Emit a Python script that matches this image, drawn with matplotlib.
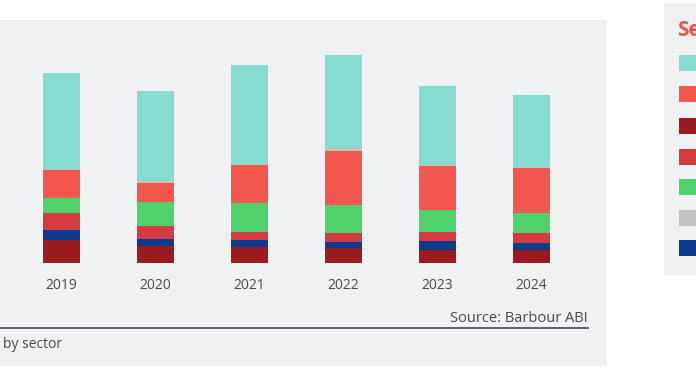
import matplotlib
matplotlib.use("Agg")
import matplotlib.pyplot as plt
from matplotlib.patches import Rectangle
from matplotlib.lines import Line2D
import numpy as np

plt.rcParams['font.family'] = ['Open Sans', 'DejaVu Sans']

years = ["2019", "2020", "2021", "2022", "2023", "2024"]
sectors = ["Residential", "Infrastructure", "Industrial", "Commercial & Retail",
           "Education", "Leisure", "Health"]
colors = ["#86dccf", "#f1574d", "#9a1b1f", "#d43c41", "#4fd26b", "#c2c2c2", "#0c3a8d"]

# values per sector (arbitrary units)
residential = [96, 90, 98.7, 92.7, 78.3, 72.3]
infrastructure = [28, 19.7, 38, 54, 44, 45]
industrial = [23, 17, 16, 15, 13.3, 13.3]
commercial = [17, 13, 7.7, 9, 8.7, 10]
education = [15, 23.7, 28.7, 27.7, 21.7, 19.7]
leisure = [1.5, 1.7, 1.7, 3.3, 1.7, 1.3]
health = [10, 7, 7.3, 6, 9, 6.7]

W, H = 696, 385
fig = plt.figure(figsize=(W / 100, H / 100), dpi=100)
fig.patch.set_facecolor("white")

def fx(px):
    return px / W

def fy(py):  # py measured from top
    return 1 - py / H

panel_bg = "#f0f1f3"
# main chart panel
fig.patches.append(Rectangle((fx(0), fy(366)), fx(607), (366 - 20) / H,
                             transform=fig.transFigure, facecolor=panel_bg,
                             edgecolor="none", zorder=-5))
# legend panel
fig.patches.append(Rectangle((fx(664), fy(275)), fx(60), (275 - 3) / H,
                             transform=fig.transFigure, facecolor=panel_bg,
                             edgecolor="none", zorder=-5))

# bar axes: baseline at y=263 px (from top), 1 unit = 1 px
ax = fig.add_axes([fx(0), fy(263), fx(607), (263 - 20) / H])
ax.set_facecolor("none")
a = -61.5 / 94
b = a + 607 / 94
ax.set_xlim(a, b)
ax.set_ylim(0, 243)

x = np.arange(len(years))
stack = [
    (industrial, colors[2]),
    (health, colors[6]),
    (commercial, colors[3]),
    (education, colors[4]),
    (infrastructure, colors[1]),
    (leisure, colors[5]),
    (residential, colors[0]),
]
bottom = np.zeros(len(years))
for vals, c in stack:
    ax.bar(x, vals, width=37 / 94, bottom=bottom, color=c, edgecolor="none")
    bottom += np.array(vals)

ax.set_xticks(x)
ax.set_xticklabels(years, fontsize=10, color="#4a4a4a")
ax.tick_params(axis="x", length=0, pad=10.5)
ax.set_yticks([])
for s in ax.spines.values():
    s.set_visible(False)

# rule and captions
fig.add_artist(Line2D([fx(0), fx(588)], [fy(328), fy(328)], transform=fig.transFigure,
                      color="#4b5563", linewidth=1.3))
fig.text(fx(588), fy(318), "Source: Barbour ABI", ha="right", va="center",
         fontsize=10.5, color="#4a4a4a")
fig.text(fx(3), fy(345), "by sector", ha="left", va="center",
         fontsize=10, color="#4a4a4a")

# legend (cropped at right edge in the reference)
fig.text(fx(677), fy(31), "Sector", ha="left", va="center", fontsize=15,
         fontweight="bold", color="#e8534a")
ycent = [63, 94, 126, 157, 187, 218, 248]
for name, c, yc in zip(sectors, colors, ycent):
    fig.patches.append(Rectangle((fx(679), fy(yc + 8)), fx(17), 16 / H,
                                 transform=fig.transFigure, facecolor=c,
                                 edgecolor="none", zorder=2))

fig.savefig("out.png", dpi=100, facecolor="white")
